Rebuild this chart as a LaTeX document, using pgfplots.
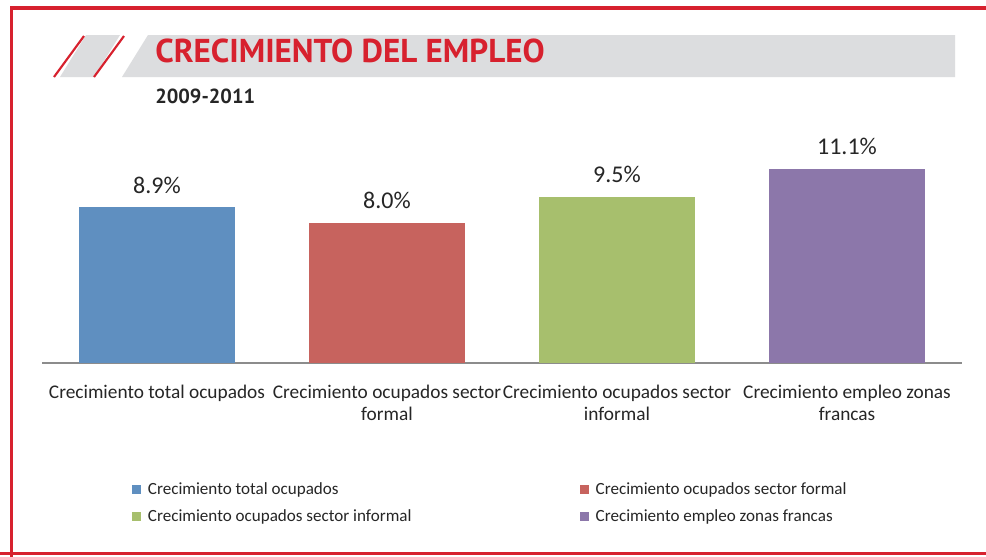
\documentclass[border=0pt]{standalone}
\usepackage{pgfplots}
\pgfplotsset{compat=1.18}
\usepackage{fontspec}
\setmainfont{Carlito}
\newfontfamily\titlefont{PT Sans}
\definecolor{frame}{HTML}{D7212E}
\definecolor{band}{HTML}{DCDDDF}
\definecolor{cA}{HTML}{5F8FC0}
\definecolor{cB}{HTML}{C7635E}
\definecolor{cC}{HTML}{A7BF6D}
\definecolor{cD}{HTML}{8C77AA}
\definecolor{axg}{HTML}{8C8C8C}
\definecolor{txt}{HTML}{262626}
\begin{document}
\begin{tikzpicture}
\begin{scope}[x=0.75pt,y=-0.75pt]
\useasboundingbox (0,0) rectangle (986,557);
\fill[white] (0,0) rectangle (986,557);
% frame
\draw[frame,line width=2.6pt] (11.5,1000) -- (11.5,8) -- (1100,8);
\draw[frame,line width=2.6pt] (0,553.5) -- (1100,553.5);
% banner
\fill[band] (122,77) -- (148,35) -- (955,35) -- (955,77) -- cycle;
\fill[band] (60,77) -- (86,35) -- (120,35) -- (94,77) -- cycle;
\draw[frame,line width=1.6pt] (54,77) -- (84,36);
\draw[frame,line width=1.6pt] (94,77) -- (124,36);
\node[anchor=base west,inner sep=0,text=frame] at (155,62)
  {\titlefont\bfseries\fontsize{24.8}{27}\selectfont CRECIMIENTO DEL EMPLEO};
\node[anchor=base west,inner sep=0,text=txt] at (155,103)
  {\titlefont\bfseries\fontsize{15.3}{17}\selectfont 2009-2011};
\end{scope}
\begin{axis}[
  at={(31.5pt,-272.25pt)}, anchor=south west,
  scale only axis, width=690pt, height=157.5pt,
  xmin=-0.5, xmax=3.5, ymin=0, ymax=12,
  axis x line=bottom, axis y line=none,
  x axis line style={axg,line width=0.8pt,-},
  ybar, bar width=117pt, bar shift=0pt,
  xtick={0,1,2,3},
  xticklabels={Crecimiento total ocupados,Crecimiento ocupados sector\\formal,Crecimiento ocupados sector\\informal,Crecimiento empleo zonas\\francas},
  xticklabel style={align=center,text=txt,font=\fontsize{14.5}{16.5}\selectfont,inner sep=0pt,yshift=-12pt},
  major x tick style={draw=none},
  extra x ticks={-0.5,0.5,1.5,2.5,3.5},
  extra x tick labels={},
  extra x tick style={major tick length=4.5pt,tick style={axg,line width=0.8pt},tick align=outside},
  nodes near coords={\pgfmathprintnumber[fixed,precision=1,fixed zerofill,assume math mode=true]{\pgfplotspointmeta}\%},
  every node near coord/.append style={font=\fontsize{18}{20}\selectfont,text=txt,yshift=7pt},
  clip=false,
  legend columns=2,
  legend style={draw=none,fill=none,at={(0.0978,-0.555)},anchor=north west,inner sep=0pt,
    font=\fontsize{12.8}{14}\selectfont,text=txt,cells={anchor=west},
    /tikz/every odd column/.append style={column sep=3pt},row sep=6pt},
  legend image code/.code={\fill[#1] (0pt,-3.4pt) rectangle (6.8pt,3.4pt);},
]
\addplot[fill=cA,draw=none] coordinates {(0,8.9)};
\addlegendentry{\makebox[322pt][l]{Crecimiento total ocupados}}
\addplot[fill=cB,draw=none] coordinates {(1,8.0)};
\addlegendentry{Crecimiento ocupados sector formal}
\addplot[fill=cC,draw=none] coordinates {(2,9.5)};
\addlegendentry{\makebox[322pt][l]{Crecimiento ocupados sector informal}}
\addplot[fill=cD,draw=none] coordinates {(3,11.1)};
\addlegendentry{Crecimiento empleo zonas francas}
\end{axis}
\end{tikzpicture}
\end{document}
